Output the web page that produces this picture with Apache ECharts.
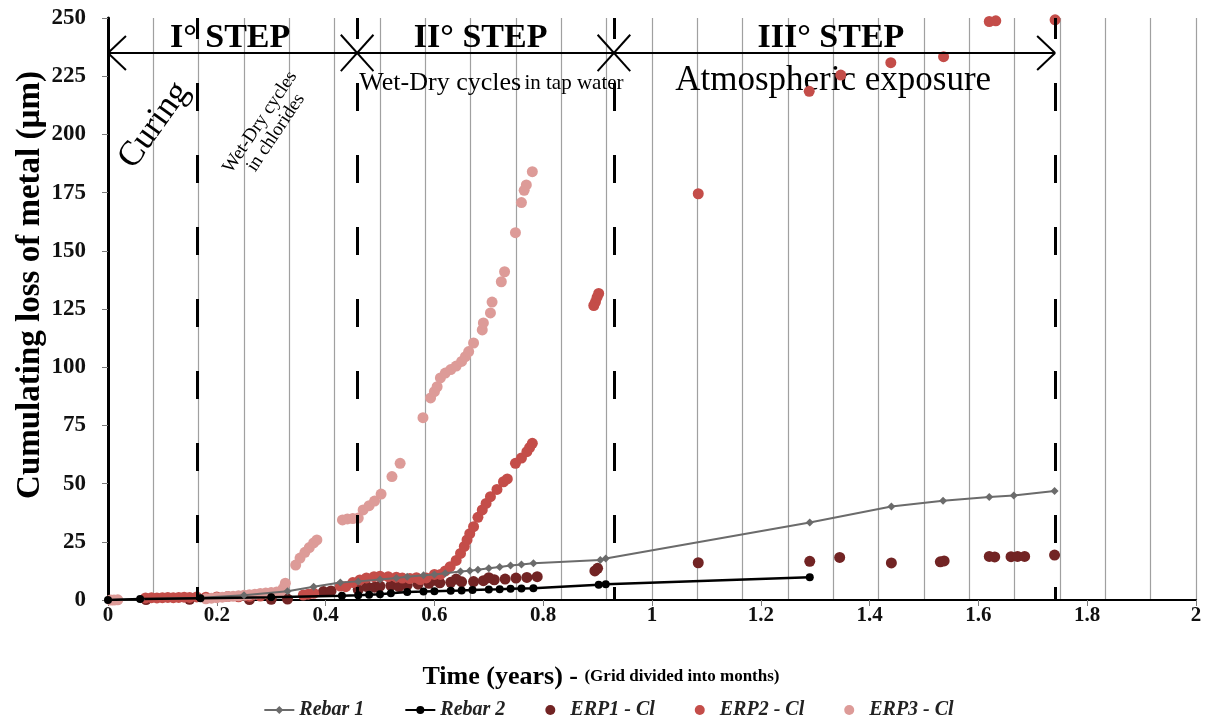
<!DOCTYPE html>
<html>
<head>
<meta charset="utf-8">
<title>Cumulating loss of metal</title>
<script src="https://cdn.jsdelivr.net/npm/echarts@6/dist/echarts.min.js"></script>
<style>
  html, body { margin: 0; padding: 0; background: #fff; }
  #main { width: 1217px; height: 727px; }
</style>
</head>
<body>
<div id="main"></div>
<script>
// [time in years, cumulating loss of metal in µm]
const rebar1 = [[0,0],[0.06,0.3],[0.17,1],[0.25,2],[0.33,3.8],[0.378,5.7],[0.427,7.5],[0.46,8],[0.5,8.8],
  [0.53,9.5],[0.55,10],[0.58,10.6],[0.6,11],[0.62,11.5],[0.648,12.2],[0.665,12.6],[0.68,13],[0.7,13.6],
  [0.72,14.2],[0.74,14.8],[0.76,15.3],[0.782,15.8],[0.905,17.2],[0.915,17.8],[1.29,33.3],[1.44,40.2],
  [1.535,42.6],[1.62,44.2],[1.665,44.9],[1.74,46.8]];
const rebar2 = [[0,0],[0.059,0.4],[0.17,0.8],[0.3,1.2],[0.43,1.8],[0.46,2],[0.48,2.3],[0.5,2.5],[0.52,2.9],
  [0.55,3.4],[0.58,3.6],[0.6,3.8],[0.63,4],[0.65,4.1],[0.67,4.3],[0.7,4.5],[0.72,4.6],[0.74,4.8],
  [0.76,4.9],[0.782,5.0],[0.902,6.5],[0.915,6.8],[1.29,9.8]];
const erp1 = [[0.07,0.2],[0.15,0.3],[0.26,0.2],[0.3,0.3],[0.33,0.4],[0.396,3.6],[0.41,3.9],[0.46,4.5],
  [0.476,5.7],[0.49,5.5],[0.5,6],[0.52,6.2],[0.535,5.8],[0.55,6.4],[0.57,6.8],[0.59,7.2],[0.61,7.4],
  [0.63,7.6],[0.65,7.8],[0.672,7.9],[0.69,8.3],[0.71,8.7],[0.73,9],[0.75,9.4],[0.77,9.7],[0.789,10],
  [0.6,8.5],[0.64,9],[0.7,9.6],[0.895,12.5],[0.9,13.6],[1.085,16],[1.29,16.6],[1.345,18.3],[1.44,15.9],
  [1.53,16.4],[1.537,16.8],[1.62,18.7],[1.63,18.5],[1.66,18.6],[1.672,18.7],[1.685,18.7],[1.74,19.3]];
const erp2 = [[0.069,0.9],[0.08,1],[0.09,0.9],[0.1,1],[0.11,1.1],[0.12,1],[0.13,1.1],[0.14,1.2],[0.15,1.1],
  [0.163,1.3],[0.18,1.2],[0.2,1.3],[0.22,1.5],[0.24,1.4],[0.26,1.6],[0.28,1.7],[0.3,1.8],
  [0.359,2.1],[0.368,2.5],[0.378,2.9],[0.427,6],[0.437,5.7],[0.45,7.5],[0.463,8.6],[0.475,9.5],
  [0.489,10],[0.5,10.2],[0.515,10],[0.53,9.8],[0.541,9.4],[0.555,9.2],[0.567,9.6],[0.574,8.8],
  [0.585,9.5],[0.6,11],[0.611,11],[0.62,12.5],[0.629,14.3],[0.64,17],[0.648,20],[0.655,23],
  [0.66,25.8],[0.665,28.5],[0.672,31.5],[0.68,35.5],[0.688,38.7],[0.695,41.5],[0.703,44.4],
  [0.715,47.5],[0.727,50.8],[0.734,52],[0.749,58.7],[0.76,61],[0.77,63.7],[0.775,65.5],[0.78,67.3],
  [0.893,126.5],[0.896,128],[0.899,130],[0.902,131.7],[1.085,174.5],[1.289,218.5],[1.347,225.5],
  [1.439,230.8],[1.536,233.4],[1.62,248.5],[1.632,248.8],[1.741,249.2]];
const erp3 = [[0.005,0],[0.011,0],[0.018,0.1],[0.18,0.5],[0.19,0.8],[0.2,1],[0.21,1.2],[0.22,1.5],
  [0.23,1.6],[0.24,1.8],[0.25,2],[0.26,2.3],[0.27,2.5],[0.28,2.8],[0.29,3],[0.3,3.2],[0.31,3.4],
  [0.317,3.6],[0.322,5],[0.326,7.2],[0.345,15],[0.353,18],[0.362,20.5],[0.37,22.5],[0.378,24.5],
  [0.384,25.8],[0.431,34.4],[0.44,34.8],[0.45,35],[0.46,35.2],[0.469,38.7],[0.48,40.5],[0.49,42.5],
  [0.502,45.5],[0.522,53],[0.537,58.7],[0.579,78.3],[0.593,86.8],[0.6,89.5],[0.605,91.6],[0.611,95.4],
  [0.62,97.5],[0.63,99],[0.64,100.5],[0.65,102.5],[0.657,104.5],[0.663,106.7],[0.672,110.4],
  [0.688,116],[0.69,119],[0.703,123.3],[0.706,128],[0.723,136.7],[0.729,141],[0.749,157.8],
  [0.76,170.7],[0.765,176],[0.769,178.3],[0.78,184]];

const seriesNames = ['Rebar 1', 'Rebar 2', 'ERP1 - Cl', 'ERP2 - Cl', 'ERP3 - Cl'];
const stepBounds = [0.164, 0.458, 0.93, 1.741];   // dashed phase limits (years)
const arrowLevel = 235;
const stepLabels = ['I° STEP', 'II° STEP', 'III° STEP'];

const serif = 'Liberation Serif';
const chart = echarts.init(document.getElementById('main'));

// arrow, chevrons and crossings over the step limits
const hw = 0.033, hh = 7.3;
function seg(a, b, style) {
  return [{ coord: a, lineStyle: style }, { coord: b }];
}
const solid = { color: '#000', width: 2, type: 'solid' };
const dashed = { color: '#000', width: 3, type: [28, 44], dashOffset: 7 };
const annot = [];
stepBounds.forEach(b => annot.push(seg([b, 250], [b, 0], dashed)));
annot.push(seg([0, arrowLevel], [stepBounds[3], arrowLevel], solid));
annot.push(seg([0, arrowLevel], [hw, arrowLevel + hh], solid));
annot.push(seg([0, arrowLevel], [hw, arrowLevel - hh], solid));
annot.push(seg([stepBounds[3], arrowLevel], [stepBounds[3] - hw, arrowLevel + hh], solid));
annot.push(seg([stepBounds[3], arrowLevel], [stepBounds[3] - hw, arrowLevel - hh], solid));
[stepBounds[1], stepBounds[2]].forEach(b => {
  annot.push(seg([b - 0.03, arrowLevel + hh + 0.5], [b + 0.03, arrowLevel - hh - 0.5], solid));
  annot.push(seg([b - 0.03, arrowLevel - hh - 0.5], [b + 0.03, arrowLevel + hh + 0.5], solid));
});

const option = {
  backgroundColor: '#fff',
  animation: false,
  grid: { left: 108, right: 21, top: 18, bottom: 127 },
  legend: {
    data: seriesNames,
    bottom: 2,
    left: 'center',
    itemGap: 40,
    itemWidth: 30,
    itemHeight: 10,
    textStyle: { fontFamily: serif, fontStyle: 'italic', fontWeight: 'bold', fontSize: 20, color: '#222' }
  },
  xAxis: [{
    type: 'value', min: 0, max: 2, interval: 0.2,
    axisLine: { lineStyle: { color: '#7a7a7a', width: 2 } },
    axisTick: { show: true, length: 6, lineStyle: { color: '#7a7a7a' } },
    axisLabel: { fontFamily: serif, fontWeight: 'bold', fontSize: 21, color: '#111', margin: 5 },
    splitLine: { show: false }
  }, {
    // months grid
    type: 'value', min: 0, max: 24, interval: 1, position: 'top',
    axisLine: { show: true, lineStyle: { color: '#000', width: 2 } },
    axisTick: { show: false }, axisLabel: { show: false },
    splitLine: { show: true, lineStyle: { color: '#a0a0a0', width: 1.2 } }
  }],
  yAxis: [{
    type: 'value', min: 0, max: 250, interval: 25,
    axisLine: { show: true, lineStyle: { color: '#7a7a7a', width: 1.5 } },
    axisTick: { show: true, length: 6, lineStyle: { color: '#7a7a7a' } },
    axisLabel: { fontFamily: serif, fontWeight: 'bold', fontSize: 23, color: '#111', margin: 22 },
    splitLine: { show: false }
  }, {
    type: 'value', min: 0, max: 250, interval: 25, position: 'right',
    axisLine: { show: true, lineStyle: { color: '#000', width: 3 } },
    axisTick: { show: false }, axisLabel: { show: false }, splitLine: { show: false }
  }],
  series: [{
    name: 'ERP1 - Cl', type: 'scatter', data: erp1, symbolSize: 11,
    itemStyle: { color: '#722424', opacity: 1 }, z: 3
  }, {
    name: 'ERP2 - Cl', type: 'scatter', data: erp2, symbolSize: 11,
    itemStyle: { color: '#c44d49', opacity: 1 }, z: 3
  }, {
    name: 'ERP3 - Cl', type: 'scatter', data: erp3, symbolSize: 11,
    itemStyle: { color: '#dd9b98', opacity: 1 }, z: 3
  }, {
    name: 'Rebar 1', type: 'line', data: rebar1, symbol: 'diamond', symbolSize: 8,
    showAllSymbol: true,
    lineStyle: { color: '#6b6b6b', width: 2 }, itemStyle: { color: '#6b6b6b' }, z: 4
  }, {
    name: 'Rebar 2', type: 'line', data: rebar2, symbol: 'circle', symbolSize: 8,
    showAllSymbol: true,
    lineStyle: { color: '#000', width: 2.5 }, itemStyle: { color: '#000' }, z: 4,
    markLine: {
      silent: true, symbol: ['none', 'none'], label: { show: false },
      emphasis: { disabled: true }, data: annot, z: 5
    }
  }]
};
chart.setOption(option);

// annotation texts, placed through the chart's own scales
const toPx = (x, y) => chart.convertToPixel({ seriesIndex: 0 }, [x, y]);
const stepCenters = [0.2245, 0.685, 1.329];
const texts = [];
stepLabels.forEach((s, i) => {
  const p = toPx(stepCenters[i], 241.5);
  texts.push({ type: 'text', x: p[0], y: p[1], style: {
    text: s, font: 'bold 34px "Liberation Serif"', fill: '#000', align: 'center', verticalAlign: 'middle' } });
});
let p = toPx(0.462, 222);
texts.push({ type: 'text', x: p[0], y: p[1], style: {
  text: '{a|Wet-Dry cycles} {b|in tap water}', verticalAlign: 'middle', align: 'left',
  rich: { a: { font: '26px "Liberation Serif"', fill: '#000' }, b: { font: '21px "Liberation Serif"', fill: '#000' } } } });
p = toPx(1.333, 223);
texts.push({ type: 'text', x: p[0], y: p[1], style: {
  text: 'Atmospheric exposure', font: '35px "Liberation Serif"', fill: '#000', align: 'center', verticalAlign: 'middle' } });
p = toPx(0.085, 204);
texts.push({ type: 'text', x: p[0], y: p[1], rotation: 0.95, style: {
  text: 'Curing', font: '35px "Liberation Serif"', fill: '#000', align: 'center', verticalAlign: 'middle' } });
p = toPx(0.294, 203);
texts.push({ type: 'text', x: p[0], y: p[1], rotation: 0.98, style: {
  text: 'Wet-Dry cycles\nin chlorides', font: '19px "Liberation Serif"', fill: '#000', align: 'center',
  verticalAlign: 'middle', lineHeight: 19 } });
texts.push({ type: 'text', x: 30, y: 285, rotation: Math.PI / 2, style: {
  text: 'Cumulating loss of metal (µm)', font: 'bold 33px "Liberation Serif"', fill: '#000',
  align: 'center', verticalAlign: 'middle' } });
texts.push({ type: 'text', x: 601, y: 677, style: {
  text: '{a|Time (years) - }{b|(Grid divided into months)}', align: 'center', verticalAlign: 'middle',
  rich: { a: { font: 'bold 26px "Liberation Serif"', fill: '#000' }, b: { font: 'bold 17px "Liberation Serif"', fill: '#000' } } } });
chart.setOption({ graphic: texts });
</script>
</body>
</html>
